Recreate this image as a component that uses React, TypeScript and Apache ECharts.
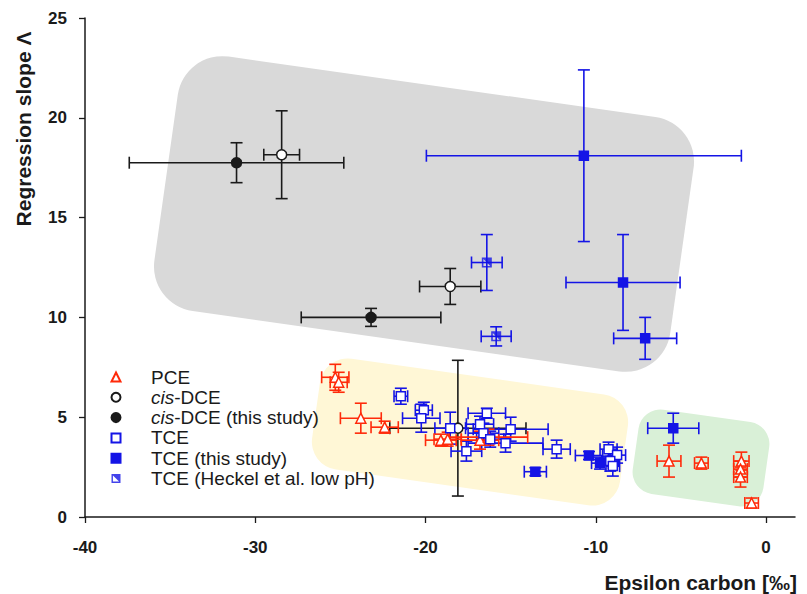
import React, { useEffect, useRef } from "react";
import * as echarts from "echarts";

// [epsilon carbon, regression slope, epsilon error, slope error]
const pce: number[][] = [
  [-25.3, 7.0, 0.8, 0.65],
  [-25.1, 6.75, 0.5, 0.5],
  [-23.8, 4.95, 1.2, 0.75],
  [-22.4, 4.5, 0.8, 0.3],
  [-19.1, 3.85, 0.9, 0.3],
  [-18.7, 3.9, 0.8, 0.35],
  [-16.8, 3.85, 1.1, 0.45],
  [-16.3, 4.0, 2.3, 0.4],
  [-5.7, 2.8, 0.7, 0.8],
  [-3.8, 2.7, 0.4, 0.3],
  [-1.45, 2.8, 0.45, 0.45],
  [-1.5, 2.4, 0.4, 0.4],
  [-1.5, 2.0, 0.4, 0.5],
  [-0.85, 0.7, 0.4, 0.25],
];

const cisDce: number[][] = [
  [-28.45, 18.15, 1.05, 2.2],
  [-18.55, 11.55, 1.8, 0.9],
  [-18.1, 4.45, 4.0, 3.4],
];

const cisDceThisStudy: number[][] = [
  [-31.1, 17.75, 6.3, 1.0],
  [-23.2, 10.0, 4.1, 0.45],
];

const tce: number[][] = [
  [-21.45, 6.05, 0.4, 0.4],
  [-20.1, 5.35, 0.5, 0.4],
  [-20.25, 4.95, 1.1, 0.7],
  [-18.55, 4.45, 0.9, 0.8],
  [-17.6, 3.3, 0.9, 0.5],
  [-16.4, 5.2, 1.1, 0.25],
  [-16.8, 4.65, 0.8, 0.4],
  [-16.6, 4.2, 0.9, 0.5],
  [-16.2, 3.9, 0.8, 0.4],
  [-15.0, 4.4, 2.2, 0.6],
  [-15.3, 3.7, 2.2, 0.45],
  [-12.3, 3.4, 0.8, 0.45],
  [-9.25, 3.4, 0.5, 0.35],
  [-8.75, 3.1, 0.5, 0.4],
  [-9.15, 2.8, 0.5, 0.5],
  [-9.0, 2.55, 0.4, 0.5],
];

const tceThisStudy: number[][] = [
  [-10.7, 18.1, 9.25, 4.3],
  [-8.4, 11.75, 3.35, 2.4],
  [-7.1, 8.95, 1.85, 1.05],
  [-5.45, 4.45, 1.5, 0.75],
  [-13.55, 2.27, 0.65, 0.2],
  [-10.4, 3.08, 0.8, 0.2],
  [-9.75, 2.7, 0.5, 0.3],
];

const tceHeckel: number[][] = [
  [-16.4, 12.75, 0.9, 1.4],
  [-15.85, 9.05, 0.88, 0.48],
];

const xTicks = [-40, -30, -20, -10, 0];
const legendNames = [
  "PCE",
  "cis-DCE",
  "cis-DCE (this study)",
  "TCE",
  "TCE (this study)",
  "TCE (Heckel et al. low pH)",
];

const RED = "#ff2a0a";
const BLUE = "#1414e6";
const BLACK = "#1a1a1a";
const FONT = "'Liberation Sans', Arial, sans-serif";

const HECKEL_PATH =
  "path://M0,0L10,0L10,10L0,10Z M1.6,1.6L1.6,8.4L8.4,8.4L8.4,1.6Z M1.6,1.6L8.4,1.6L8.4,8.4Z";

function errorBars(data: number[][], color: string) {
  return {
    type: "custom",
    data,
    z: 2,
    silent: true,
    encode: { x: 0, y: 1 },
    renderItem: (_params: any, api: any) => {
      const x = api.value(0);
      const y = api.value(1);
      const ex = api.value(2);
      const ey = api.value(3);
      const l = api.coord([x - ex, y]);
      const r = api.coord([x + ex, y]);
      const t = api.coord([x, y + ey]);
      const b = api.coord([x, y - ey]);
      const cap = 6;
      const style = { stroke: color, lineWidth: 1.6, fill: "none" };
      const ln = (x1: number, y1: number, x2: number, y2: number) => ({
        type: "line",
        shape: { x1, y1, x2, y2 },
        style,
      });
      return {
        type: "group",
        children: [
          ln(l[0], l[1], r[0], r[1]),
          ln(l[0], l[1] - cap, l[0], l[1] + cap),
          ln(r[0], r[1] - cap, r[0], r[1] + cap),
          ln(t[0], t[1], b[0], b[1]),
          ln(t[0] - cap, t[1], t[0] + cap, t[1]),
          ln(b[0] - cap, b[1], b[0] + cap, b[1]),
        ],
      };
    },
  };
}

function points(
  name: string,
  data: number[][],
  symbol: string,
  size: number,
  fill: string,
  border: string
) {
  return {
    type: "scatter",
    name,
    data: data.map((d) => [d[0], d[1]]),
    symbol,
    symbolSize: size,
    symbolKeepAspect: true,
    z: 3,
    itemStyle: { color: fill, borderColor: border, borderWidth: 1.5, opacity: 1 },
  };
}

export default function App() {
  const ref = useRef<HTMLDivElement>(null);
  useEffect(() => {
    if (!ref.current) return;
    const chart = echarts.init(ref.current, undefined, { renderer: "svg" });
    const option: any = {
      animation: false,
      backgroundColor: "#ffffff",
      grid: { left: 85, top: 18, right: 12, bottom: 77, containLabel: false },
      xAxis: {
        type: "value",
        min: -40,
        max: 1.7,
        interval: 10,
        splitLine: { show: false },
        axisLine: { onZero: false, lineStyle: { color: BLACK, width: 1.5 } },
        axisTick: {
          inside: false,
          length: 6,
          lineStyle: { color: BLACK, width: 1.3 },
          customValues: xTicks,
        },
        axisLabel: {
          customValues: xTicks,
          color: BLACK,
          fontWeight: "bold",
          fontSize: 17,
          fontFamily: FONT,
          margin: 22,
        },
      },
      yAxis: {
        type: "value",
        min: 0,
        max: 25,
        interval: 5,
        splitLine: { show: false },
        axisLine: { show: true, onZero: false, lineStyle: { color: BLACK, width: 1.5 } },
        axisTick: { show: true, inside: false, length: 6, lineStyle: { color: BLACK, width: 1.3 } },
        axisLabel: {
          color: BLACK,
          fontWeight: "bold",
          fontSize: 17,
          fontFamily: FONT,
          margin: 18,
        },
      },
      legend: {
        data: legendNames,
        orient: "vertical",
        left: 110.5,
        top: 367,
        padding: 0,
        itemWidth: 9,
        itemHeight: 9,
        itemGap: 0.3,
        selectedMode: false,
        textStyle: {
          fontSize: 19,
          fontFamily: FONT,
          color: BLACK,
          lineHeight: 20,
          rich: {
            p: { width: 25.5, lineHeight: 20 },
            i: { fontStyle: "italic", fontSize: 19, fontFamily: FONT, color: BLACK, lineHeight: 20 },
          },
        },
        formatter: (name: string) => "{p|}" + name.replace("cis", "{i|cis}"),
      },
      graphic: [
        {
          type: "rect",
          x: 424,
          y: 214,
          rotation: -0.14,
          silent: true,
          z: -10,
          shape: { x: -260.5, y: -128.5, width: 521, height: 257, r: 45 },
          style: { fill: "#d9d9d9" },
        },
        {
          type: "rect",
          x: 470,
          y: 432,
          rotation: -0.14,
          silent: true,
          z: -10,
          shape: { x: -155.5, y: -56, width: 311, height: 112, r: 28 },
          style: { fill: "#fff7d6" },
        },
        {
          type: "rect",
          x: 701,
          y: 458,
          rotation: -0.14,
          silent: true,
          z: -10,
          shape: { x: -66, y: -42.5, width: 132, height: 85, r: 22 },
          style: { fill: "#d9f0d7" },
        },
        {
          type: "text",
          x: 23,
          y: 129,
          rotation: Math.PI / 2,
          silent: true,
          style: {
            text: "Regression slope Λ",
            fontSize: 21,
            fontWeight: "bold",
            fontFamily: FONT,
            fill: BLACK,
            align: "center",
            verticalAlign: "middle",
          },
        },
        {
          type: "text",
          x: 797,
          y: 582,
          silent: true,
          style: {
            text: "Epsilon carbon [‰]",
            fontSize: 21,
            fontWeight: "bold",
            fontFamily: FONT,
            fill: BLACK,
            align: "right",
            verticalAlign: "middle",
          },
        },
      ],
      series: [
        errorBars(cisDce, BLACK),
        errorBars(cisDceThisStudy, BLACK),
        errorBars(tceHeckel, BLUE),
        errorBars(tce, BLUE),
        errorBars(tceThisStudy, BLUE),
        errorBars(pce, RED),
        points("PCE", pce, "triangle", 10, "#ffffff", RED),
        points("cis-DCE", cisDce, "circle", 10, "#ffffff", BLACK),
        points("cis-DCE (this study)", cisDceThisStudy, "circle", 10, BLACK, BLACK),
        points("TCE", tce, "rect", 9, "#ffffff", BLUE),
        points("TCE (this study)", tceThisStudy, "rect", 9, BLUE, BLUE),
        {
          ...points("TCE (Heckel et al. low pH)", tceHeckel, HECKEL_PATH, 10, BLUE, BLUE),
          itemStyle: { color: BLUE, borderWidth: 0 },
        },
      ],
    };
    chart.setOption(option);
    return () => chart.dispose();
  }, []);
  return (
    <div
      ref={ref}
      style={{ position: "fixed", left: 0, top: 0, width: 807, height: 594 }}
    />
  );
}
